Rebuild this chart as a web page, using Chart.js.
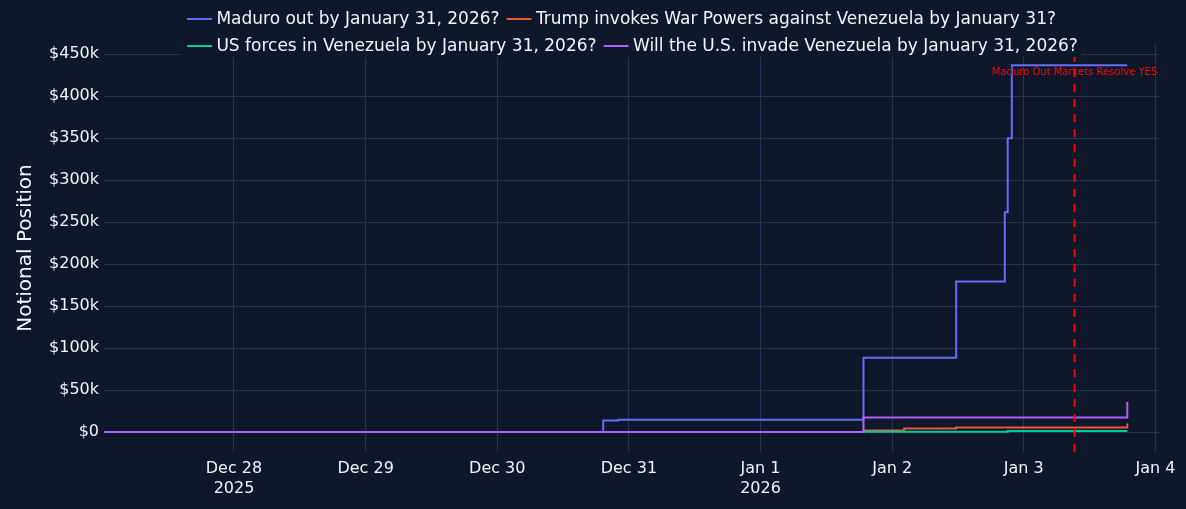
<!DOCTYPE html>
<html><head><meta charset="utf-8">
<script src="https://cdn.jsdelivr.net/npm/chart.js@4.4.1/dist/chart.umd.min.js"></script>
<style>
html,body{margin:0;padding:0;background:#0f172a;}
#wrap{width:1186px;height:509px;position:relative;}
</style></head><body>
<div id="wrap"><canvas id="c" width="1186" height="509"></canvas></div>
<script>
// ---- data ----
const seriesNames = [
  'Maduro out by January 31, 2026?',
  'Trump invokes War Powers against Venezuela by January 31?',
  'US forces in Venezuela by January 31, 2026?',
  'Will the U.S. invade Venezuela by January 31, 2026?'
];
const seriesColors = ['#636efa', '#ef553b', '#00cc96', '#ab63fa'];

const maduroTimes  = ['2025-12-27T00:18','2025-12-30T19:19','2025-12-30T22:03','2026-01-01T18:46','2026-01-02T11:40','2026-01-02T20:32','2026-01-02T21:04','2026-01-02T21:49','2026-01-03T18:52'];
const maduroValues = [0, 13800, 14600, 88600, 179300, 261900, 350000, 437000, 437000];

const trumpTimes   = ['2025-12-27T00:18','2026-01-01T18:46','2026-01-02T02:11','2026-01-02T11:40','2026-01-03T18:52'];
const trumpValues  = [0, 1900, 4300, 5500, 10200];

const forcesTimes  = ['2025-12-27T00:18','2026-01-01T18:46','2026-01-02T21:04','2026-01-03T18:52'];
const forcesValues = [0, 400, 1200, 1200];

const invadeTimes  = ['2025-12-27T00:18','2026-01-01T18:46','2026-01-03T18:52'];
const invadeValues = [0, 17400, 35700];

const resolveTime  = '2026-01-03T09:15';
const resolveLabel = 'Maduro Out Markets Resolve YES';

const xTickDates  = ['2025-12-28','2025-12-29','2025-12-30','2025-12-31','2026-01-01','2026-01-02','2026-01-03','2026-01-04'];
const xTickLabels = [['Dec 28','2025'],'Dec 29','Dec 30','Dec 31',['Jan 1','2026'],'Jan 2','Jan 3','Jan 4'];
const xRange = ['2025-12-27T00:18','2026-01-04T00:39'];

const yTickValues = [0,50000,100000,150000,200000,250000,300000,350000,400000,450000];
const yTickLabels = ['$0','$50k','$100k','$150k','$200k','$250k','$300k','$350k','$400k','$450k'];
const yRange = [-23800, 462300];
const yTitle = 'Notional Position';

// ---- helpers ----
const toMs = s => Date.parse((s.length === 10 ? s + 'T00:00' : s) + ':00Z');
const pts = (t, v) => t.map((s, i) => ({x: toMs(s), y: v[i]}));

const BG = '#0f172a';
const GRID = '#243352';
const TXT = '#f2f5fa';
const FONT = "'DejaVu Sans', Verdana, sans-serif";

const allSeries = [
  pts(maduroTimes, maduroValues),
  pts(trumpTimes, trumpValues),
  pts(forcesTimes, forcesValues),
  pts(invadeTimes, invadeValues)
];

const datasets = allSeries.map((d, i) => ({
  label: seriesNames[i],
  data: d,
  borderColor: seriesColors[i],
  backgroundColor: seriesColors[i],
  borderWidth: 2,
  pointRadius: 0,
  pointHoverRadius: 0,
  stepped: 'before',
  fill: false,
  tension: 0,
  order: 4 - i
}));

const overlayPlugin = {
  id: 'overlay',
  afterDatasetsDraw(chart) {
    const {ctx, chartArea, scales} = chart;
    const x = scales.x.getPixelForValue(toMs(resolveTime));
    ctx.save();
    ctx.strokeStyle = '#ff0000';
    ctx.lineWidth = 2;
    ctx.setLineDash([8, 7]);
    ctx.beginPath();
    ctx.moveTo(x, chartArea.bottom);
    ctx.lineTo(x, chartArea.top);
    ctx.stroke();
    ctx.restore();
  },
  afterDraw(chart) {
    const {ctx, scales} = chart;
    ctx.save();
    // legend background box
    ctx.fillStyle = BG;
    ctx.fillRect(181, 0, 900, 57);
    // legend items
    ctx.font = "17px " + FONT;
    ctx.textBaseline = 'middle';
    ctx.textAlign = 'left';
    const rowY = [20, 47];
    const startX = 187, maxW = 905;
    let row = 0, x = startX;
    seriesNames.forEach((name, i) => {
      const w = ctx.measureText(name).width;
      const itemW = 29.4 + w;
      if (x > startX && (x - startX) + itemW > maxW) { row++; x = startX; }
      const y = rowY[row];
      ctx.strokeStyle = seriesColors[i];
      ctx.lineWidth = 2;
      ctx.beginPath();
      ctx.moveTo(x, y - 1);
      ctx.lineTo(x + 25, y - 1);
      ctx.stroke();
      ctx.fillStyle = TXT;
      ctx.fillText(name, x + 29.4, y);
      x += itemW + 7;
    });
    // annotation
    const ax = scales.x.getPixelForValue(toMs(resolveTime));
    ctx.font = "10px " + FONT;
    ctx.fillStyle = '#ff0000';
    ctx.textAlign = 'center';
    ctx.fillText(resolveLabel, ax, 72);
    ctx.restore();
  }
};

new Chart(document.getElementById('c'), {
  type: 'line',
  data: {datasets},
  options: {
    responsive: false,
    animation: false,
    devicePixelRatio: 1,
    layout: {padding: {left: 0, right: 27, top: 44, bottom: 0}},
    plugins: {legend: {display: false}, tooltip: {enabled: false}},
    scales: {
      x: {
        type: 'linear',
        min: toMs(xRange[0]),
        max: toMs(xRange[1]),
        afterBuildTicks: s => { s.ticks = xTickDates.map(d => ({value: toMs(d)})); },
        afterFit: s => { s.height = 57; },
        grid: {color: GRID, lineWidth: 1, drawTicks: false},
        border: {display: false},
        ticks: {
          autoSkip: false, maxRotation: 0, minRotation: 0, padding: 6,
          color: TXT, font: {family: FONT, size: 16, lineHeight: 1.3},
          callback: (v) => { const i = xTickDates.findIndex(d => toMs(d) === v); return i >= 0 ? xTickLabels[i] : ''; }
        }
      },
      y: {
        type: 'linear',
        min: yRange[0],
        max: yRange[1],
        afterBuildTicks: s => { s.ticks = yTickValues.map(v => ({value: v})); },
        afterFit: s => { s.width = 104; },
        grid: {color: GRID, lineWidth: 1, drawTicks: false},
        border: {display: false},
        ticks: {
          padding: 5, color: TXT, font: {family: FONT, size: 16},
          callback: (v) => { const i = yTickValues.indexOf(v); return i >= 0 ? yTickLabels[i] : ''; }
        },
        title: {display: true, text: yTitle, color: TXT, font: {family: FONT, size: 20}, padding: {top: 14, bottom: 0}}
      }
    }
  },
  plugins: [overlayPlugin]
});
</script>
</body></html>
